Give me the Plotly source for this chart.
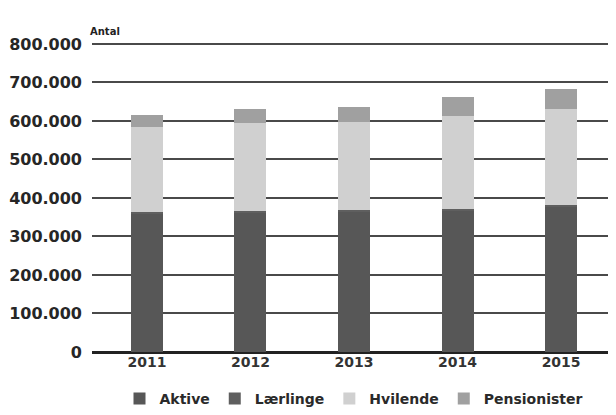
import plotly.graph_objects as go

years = ["2011", "2012", "2013", "2014", "2015"]
aktive = [359000, 363000, 364000, 368000, 377000]
laerlinge = [4000, 4000, 4000, 4000, 4000]
hvilende = [222000, 227000, 228000, 242000, 251000]
pensionister = [30000, 36000, 41000, 47000, 51000]
ytick_vals = [0, 100000, 200000, 300000, 400000, 500000, 600000, 700000, 800000]

series = [
    ("Aktive", aktive, "#575757"),
    ("Lærlinge", laerlinge, "#5f5f5f"),
    ("Hvilende", hvilende, "#d0d0d0"),
    ("Pensionister", pensionister, "#a0a0a0"),
]

fig = go.Figure()
for name, vals, col in series:
    fig.add_trace(go.Bar(
        x=years, y=vals, name=name,
        marker=dict(color=col, line=dict(width=0)),
        width=0.31,
    ))

font_family = "DejaVu Sans, sans-serif"
fig.update_layout(
    barmode="stack",
    width=608, height=407,
    margin=dict(l=84, r=0, t=34, b=63, autoexpand=False),
    paper_bgcolor="white", plot_bgcolor="white",
    separators=",.",
    font=dict(family=font_family, size=14, color="#262626"),
    showlegend=True,
    legend=dict(orientation="h", x=0.5, xanchor="center", y=-0.1, yanchor="top",
                font=dict(size=14, color="#2a2a2a", weight="bold"), traceorder="normal",
                itemwidth=30),
    xaxis=dict(range=[-0.53, 4.53], showgrid=False, showline=False, ticks="",
               tickfont=dict(size=14, color="#333333", weight="bold")),
    yaxis=dict(range=[0, 805000], tickvals=ytick_vals,
               tickformat=",d",
               showgrid=True, gridcolor="#4a4a4a", gridwidth=2,
               zeroline=True, zerolinecolor="#222222", zerolinewidth=2.5,
               showline=False, ticks="", ticklabelstandoff=9,
               tickfont=dict(size=16, color="#262626", weight="bold")),
    annotations=[dict(text="<b>Antal</b>", x=0, xref="paper", y=1, yref="paper",
                      showarrow=False, xanchor="left", yanchor="bottom",
                      xshift=-4, yshift=3,
                      font=dict(size=10, color="#222222"))],
)

fig.write_html("out.html")
